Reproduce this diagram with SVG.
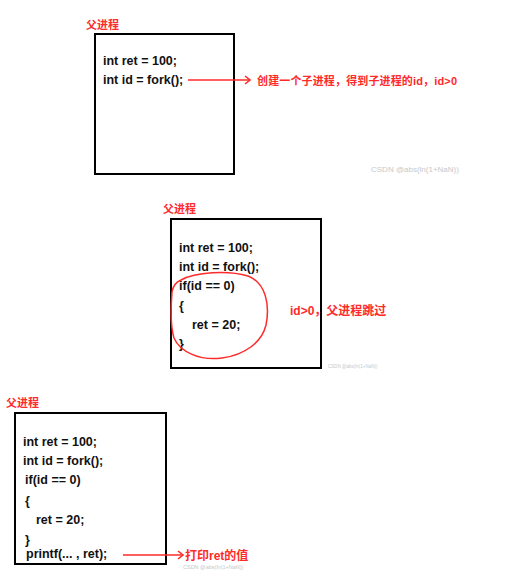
<svg xmlns="http://www.w3.org/2000/svg" width="511" height="580" viewBox="0 0 511 580">
<style>
.box{fill:#fff;stroke:#000;stroke-width:2}
.code{font-family:"Liberation Sans","Noto Sans CJK SC",sans-serif;font-weight:bold;font-size:12.5px;fill:#111}
.title{font-family:"Noto Sans CJK SC",sans-serif;font-weight:bold;font-size:11px;fill:#ff2a2a}
.note{font-family:"Liberation Sans","Noto Sans CJK SC",sans-serif;font-weight:bold;fill:#ff2a2a}
.wm{font-family:"Liberation Sans",sans-serif;fill:#c8c8c8}
.arrow{fill:none;stroke:#ff2a2a;stroke-width:1.5}
</style>
<defs>
<marker id="chev" markerWidth="8" markerHeight="10" refX="6" refY="5" orient="auto" markerUnits="userSpaceOnUse">
<path d="M1,1 L6,5 L1,9" fill="none" stroke="#ff2a2a" stroke-width="1.6"/>
</marker>
</defs>
<rect width="511" height="580" fill="#fff"/>

<g id="panel1">
<text class="title" x="86" y="29">父进程</text>
<rect class="box" x="95" y="34" width="139" height="140"/>
<text class="code" x="103" y="65">int ret = 100;</text>
<text class="code" x="103" y="84">int id = fork();</text>
</g>
<g id="note1">
<text class="note" x="257" y="85" font-size="11" textLength="200">创建一个子进程，得到子进程的id，id&gt;0</text>
</g>
<text class="wm" x="371" y="172" font-size="8">CSDN @abs(ln(1+NaN))</text>

<g id="panel2">
<text class="title" x="163" y="213" font-size="11.3">父进程</text>
<rect class="box" x="171" y="219" width="150" height="149"/>
<text class="code" x="179" y="252" font-size="13">int ret = 100;</text>
<text class="code" x="179" y="271" font-size="13">int id = fork();</text>
<text class="code" x="179" y="290" font-size="13">if(id == 0)</text>
<text class="code" x="179" y="310" font-size="13">{</text>
<text class="code" x="192" y="329" font-size="13">ret = 20;</text>
<text class="code" x="179" y="348" font-size="13">}</text>
</g>
<g id="note2">
<text class="note" x="290" y="315" font-size="12">id&gt;0，父进程跳过</text>
</g>
<text class="wm" x="328" y="368" font-size="4.5">CSDN @abs(ln(1+NaN))</text>

<g id="panel3">
<text class="title" x="6" y="407" font-size="11.5">父进程</text>
<rect class="box" x="15" y="413" width="151" height="151"/>
<text class="code" x="23" y="446" font-size="13">int ret = 100;</text>
<text class="code" x="23" y="465" font-size="13">int id = fork();</text>
<text class="code" x="25" y="484" font-size="13">if(id == 0)</text>
<text class="code" x="25" y="505" font-size="13">{</text>
<text class="code" x="36" y="524" font-size="13">ret = 20;</text>
<text class="code" x="25" y="544" font-size="13">}</text>
<text class="code" x="26" y="558" font-size="13">printf(... , ret);</text>
</g>
<text class="wm" x="183" y="569" font-size="5.5">CSDN @abs(ln(1+NaN))</text>
<g id="note3">
<text class="note" x="185" y="560" font-size="12">打印ret的值</text>
</g>

<g id="connectors">
<line class="arrow" x1="188" y1="80" x2="250" y2="80" marker-end="url(#chev)"/>
<line class="arrow" x1="123" y1="555" x2="183" y2="555" marker-end="url(#chev)"/>
<path class="arrow" d="M181,280 C195,272 228,270 248,276 C266,283 270,305 266,325 C262,342 245,355 222,358 C200,361 180,352 174,338 C170,325 171,305 172,292 C173,286 176,282 181,280"/>
</g>
</svg>
